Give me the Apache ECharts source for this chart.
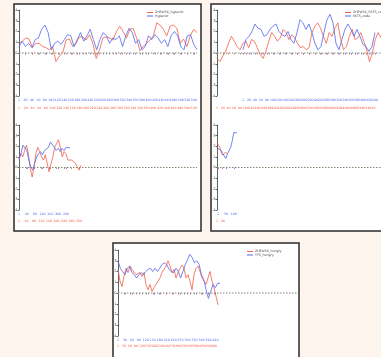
<!DOCTYPE html>
<html>
<head>
<meta charset="utf-8">
<script src="https://cdn.jsdelivr.net/npm/echarts@6/dist/echarts.min.js"></script>
<style>
  html, body { margin: 0; padding: 0; background: #fdf4ed; }
  #c { width: 381px; height: 357px; }
</style>
</head>
<body>
<div id="c"></div>
<script>
// ---- series values (smoothed score per window) ----
const aRed  = [0.9,1.1,1.4,1.3,0.5,0.9,0.9,0.6,0.5,0.3,0.6,-0.8,-0.3,0.0,1.2,1.3,0.6,0.9,1.5,1.5,1.2,1.7,0.9,-0.5,0.3,1.4,1.5,1.4,1.2,2.0,2.5,2.0,1.4,2.2,2.3,1.4,0.2,0.6,0.9,1.2,1.6,2.8,2.6,2.2,1.6,2.5,2.6,2.3,0.9,1.3,0.6,1.6,2.2,1.9];
const aBlue = [0.6,1.1,0.6,0.9,0.5,1.25,1.4,2.2,2.6,1.9,0.3,0.9,1.1,0.8,1.25,1.7,1.6,0.6,1.25,1.9,1.1,1.6,2.2,1.25,0.3,1.25,1.9,1.6,0.9,1.4,1.25,1.6,0.6,1.6,2.3,1.9,0.9,1.25,0.3,0.6,1.6,1.25,1.7,1.4,0.9,1.25,0.6,1.6,2.0,1.6,0.6,0.3,1.6,1.7,0.8,0.3];

const bRed  = [-0.5,-0.8,-0.3,0.15,0.9,1.55,1.1,0.6,0.3,0.9,1.1,0.5,1.25,1.1,0.5,-0.15,-0.5,0.15,1.1,1.9,1.55,1.1,1.4,2.2,1.9,1.25,1.7,1.4,0.9,0.5,0.6,0.3,0.5,1.9,2.5,2.8,2.3,1.55,0.9,1.9,1.55,2.3,2.8,1.25,0.3,0.6,1.55,2.2,1.25,1.4,1.9,1.1,0.3,-0.8,0.0,1.25,1.9,1.4];
const bBlue = [0.3,1.25,1.55,2.0,2.7,2.3,2.2,1.55,1.7,2.2,2.5,2.7,2.0,1.7,1.55,2.0,1.25,0.9,1.9,3.1,2.8,2.2,2.7,1.9,0.9,0.3,0.6,1.9,3.1,3.6,2.8,0.9,0.3,1.25,2.2,2.7,2.2,1.55,2.2,1.55,0.8,0.6,0.15,0.6,1.9];

const cRed  = [0.7,1.3,1.0,1.6,2.1,1.3,-0.1,-0.9,0.05,1.3,1.9,1.5,1.0,0.7,1.2,0.4,-0.4,-0.25,1.0,1.9,2.25,2.6,1.9,1.0,1.5,1.3,0.7,0.85,0.7,0.85,0.4,0.05,-0.25,0.2];
const cBlue = [0.85,1.3,2.1,2.25,1.6,0.7,0.05,-0.25,0.4,1.0,1.3,1.5,1.2,1.6,1.5,1.9,2.4,2.25,1.9,1.6,1.8,1.5,1.8,1.6,1.9,1.8,1.85];

const dRed  = [2.4,2.1,1.9,1.45,1.15,1.3,1.45,1.3];
const dBlue = [1.8,1.9,1.6,1.3,1.45,0.85,1.3,1.4,1.9,2.5,3.3,3.25,3.25];

const eRed  = [2.2,1.1,0.6,1.55,2.3,1.9,2.5,2.2,2.35,1.7,1.55,1.9,1.55,1.9,0.8,0.3,0.8,0.15,0.5,0.6,1.1,1.4,1.9,2.0,2.5,3.0,2.5,1.9,2.2,1.4,1.9,2.3,2.6,2.3,1.4,1.7,1.1,0.3,1.7,2.3,2.5,2.0,1.4,1.1,0.8,1.4,2.0,1.1,0.5,-0.3,-1.1];
const eBlue = [3.0,2.3,2.0,1.7,2.3,2.5,1.9,1.7,1.4,1.7,1.9,1.7,2.0,2.2,2.3,2.0,2.3,2.0,2.3,2.65,2.8,2.65,2.2,2.0,1.9,2.3,2.0,1.4,2.0,2.65,3.1,3.6,3.3,2.8,3.0,2.65,1.7,1.25,0.3,-0.5,0.15,0.8,0.5,0.9,0.9];

// ---- legend names ----
const aNames = ['ZHEW56_hyper.kt', 'Hyper.kt'];
const bNames = ['ZHEW56_hSTS_code', 'hSTS_code'];
const eNames = ['ZHEW56_hungry', 'YTS_hungry'];

// ---- y ticks ----
const yMin = -4, yMax = 4, yStep = 1;

// window start positions shown under each trace
function positionLabels(n) {
  const out = [];
  for (let i = 0; i < n; i++) out.push(String(i === 0 ? 1 : i * 10));
  return out;
}
const aRedTicks = positionLabels(aRed.length),  aBlueTicks = positionLabels(aBlue.length);
const bRedTicks = positionLabels(bRed.length),  bBlueTicks = positionLabels(bBlue.length);
const cRedTicks = positionLabels(cRed.length),  cBlueTicks = positionLabels(cBlue.length);
const dRedTicks = positionLabels(dRed.length),  dBlueTicks = positionLabels(dBlue.length);
const eRedTicks = positionLabels(eRed.length),  eBlueTicks = positionLabels(eBlue.length);

const RED = '#f0604c', BLUE = '#5468ee';
const FONT = 'DejaVu Sans';

// ---- panel layout ----
const panels = [
  { axisX: 19,  right: 197, top: 10,  bottom: 96,
    red:  { name: aNames[0], data: aRed,  ticks: aRedTicks,  x0: 19,  x1: 197, row: 9.5, every: 1 },
    blue: { name: aNames[1], data: aBlue, ticks: aBlueTicks, x0: 19,  x1: 197, row: 1.5, every: 1 },
    legend: { left: 147, top: 11 } },
  { axisX: 217, right: 395, top: 10,  bottom: 96,
    red:  { name: bNames[0], data: bRed,  ticks: bRedTicks,  x0: 217, x1: 381, row: 9.5, every: 1 },
    blue: { name: bNames[1], data: bBlue, ticks: bBlueTicks, x0: 243, x1: 380, row: 1.5, every: 1 },
    legend: { left: 345, top: 11 } },
  { axisX: 19,  right: 197, top: 125, bottom: 210,
    red:  { name: 'c_red',  data: cRed,  ticks: cRedTicks,  x0: 19, x1: 81, row: 8.5, every: 3 },
    blue: { name: 'c_blue', data: cBlue, ticks: cBlueTicks, x0: 19, x1: 70, row: 1.5, every: 3 } },
  { axisX: 217, right: 395, top: 125, bottom: 210,
    red:  { name: 'd_red',  data: dRed,  ticks: dRedTicks,  x0: 217, x1: 227, row: 8.5, every: 3 },
    blue: { name: 'd_blue', data: dBlue, ticks: dBlueTicks, x0: 218, x1: 237, row: 1.5, every: 4 } },
  { axisX: 118, right: 297, top: 250, bottom: 336,
    red:  { name: eNames[0], data: eRed,  ticks: eRedTicks,  x0: 118, x1: 218, row: 7.5, every: 2 },
    blue: { name: eNames[1], data: eBlue, ticks: eBlueTicks, x0: 118, x1: 220, row: 1.5, every: 2 },
    legend: { left: 247, top: 250 } }
];

const grid = [], xAxis = [], yAxis = [], series = [], legend = [];

function hiddenY(gi) {
  return { gridIndex: gi, type: 'value', min: yMin, max: yMax, interval: yStep, show: false };
}

panels.forEach((p) => {
  const h = p.bottom - p.top;
  // frame grid: y axis + zero reference
  const g0 = grid.length;
  grid.push({ left: p.axisX, top: p.top, width: p.right - p.axisX, height: h });
  xAxis.push({ gridIndex: g0, type: 'value', min: 0, max: 1, show: false });
  yAxis.push({
    gridIndex: g0, type: 'value', min: yMin, max: yMax, interval: yStep,
    axisLine: { show: true, lineStyle: { color: '#5b6660', width: 1 } },
    axisTick: { show: true, length: 1.5, lineStyle: { color: '#5b6660' } },
    axisLabel: { fontSize: 3.6, color: '#555', margin: 1.5, fontFamily: FONT },
    splitLine: { show: false }
  });
  series.push({
    type: 'line', xAxisIndex: xAxis.length - 1, yAxisIndex: yAxis.length - 1,
    data: [[0, 0], [1, 0]], symbol: 'none', silent: true,
    lineStyle: { color: '#7c8870', width: 1, type: [1.5, 1.5] }, z: 1
  });

  [['blue', BLUE], ['red', RED]].forEach(([key, color]) => {
    const s = p[key];
    const gi = grid.length;
    grid.push({ left: s.x0, top: p.top, width: s.x1 - s.x0, height: h });
    xAxis.push({
      gridIndex: gi, type: 'category', boundaryGap: false, data: s.ticks,
      position: 'bottom', offset: s.row,
      axisLine: { show: false },
      axisTick: { show: true, length: 1.5, interval: s.every, lineStyle: { color: color, width: 0.8 } },
      axisLabel: { interval: s.every, fontSize: 3.2, color: color, margin: 1, fontFamily: FONT },
      splitLine: { show: false }
    });
    yAxis.push(hiddenY(gi));
    series.push({
      name: s.name, type: 'line', xAxisIndex: xAxis.length - 1, yAxisIndex: yAxis.length - 1,
      data: s.data, symbol: 'none', z: key === 'red' ? 3 : 4,
      lineStyle: { color: color, width: 0.9, opacity: 0.9 }, itemStyle: { color: color }
    });
  });

  if (p.legend) {
    legend.push({
      data: [p.red.name, p.blue.name], left: p.legend.left, top: p.legend.top,
      orient: 'vertical', itemWidth: 6, itemHeight: 1, itemGap: 0.5, padding: 0,
      icon: 'rect', textStyle: { fontSize: 3.2, color: '#444', fontFamily: FONT, padding: [0, 0, 0, -3] }
    });
  }
});

const frameStyle = { fill: '#ffffff', stroke: '#2a2a2a', lineWidth: 1.5 };
const option = {
  backgroundColor: '#fdf4ed',
  animation: false,
  graphic: [
    { type: 'rect', z: -10, shape: { x: 14, y: 4, width: 187, height: 227 }, style: frameStyle },
    { type: 'rect', z: -10, shape: { x: 211, y: 4, width: 187, height: 227 }, style: frameStyle },
    { type: 'rect', z: -10, shape: { x: 113, y: 243, width: 186, height: 227 }, style: frameStyle }
  ],
  grid, xAxis, yAxis, series, legend
};

echarts.init(document.getElementById('c'), null, { renderer: 'canvas' }).setOption(option);
</script>
</body>
</html>
